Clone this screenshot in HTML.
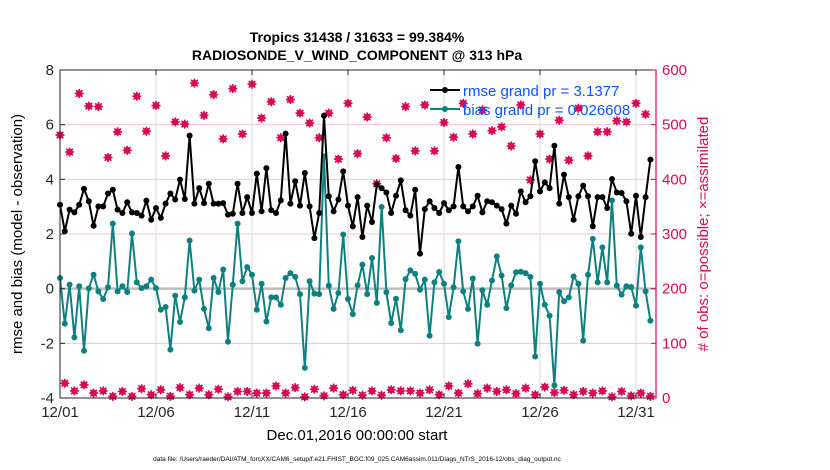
<!DOCTYPE html>
<html><head><meta charset="utf-8"><style>
body{margin:0;background:#fff;}
svg{display:block;font-family:"Liberation Sans",Arial,sans-serif;}
</style></head><body>
<svg id="chart" width="830" height="470" viewBox="0 0 830 470" xmlns="http://www.w3.org/2000/svg">
<g id="grid"></g>
<g id="marks"></g>
<g id="axes"></g>
<text x="357" y="42" text-anchor="middle" font-size="14" font-weight="bold">Tropics 31438 / 31633 = 99.384%</text>
<text x="357" y="60" text-anchor="middle" font-size="14" font-weight="bold">RADIOSONDE_V_WIND_COMPONENT @ 313 hPa</text>
<text x="357" y="440" text-anchor="middle" font-size="15">Dec.01,2016 00:00:00 start</text>
<text transform="translate(22,234) rotate(-90)" text-anchor="middle" font-size="15">rmse and bias (model - observation)</text>
<text transform="translate(708,234) rotate(-90)" text-anchor="middle" font-size="15" fill="#d90a55"># of obs: o=possible; ×=assimilated</text>
<text x="357" y="461" text-anchor="middle" font-size="6.5">data file: /Users/raeder/DAI/ATM_forcXX/CAM6_setup/f.e21.FHIST_BGC.f09_025.CAM6assim.011/Diags_NTrS_2016-12/obs_diag_output.nc</text>
<g>
<line x1="430" y1="90" x2="460" y2="90" stroke="#000" stroke-width="2"/><circle cx="445" cy="90" r="3" fill="#000"/>
<text x="463" y="96" font-size="15" fill="#0a55ff">rmse grand pr = 3.1377</text>
<line x1="430" y1="109" x2="460" y2="109" stroke="#0f8080" stroke-width="2"/><circle cx="445" cy="109" r="3" fill="#0f8080"/>
<text x="463" y="115" font-size="15" fill="#0a55ff">bias grand pr = 0.026608</text>
</g>
</svg>
<script>
const tickLabelsX=["12/01","12/06","12/11","12/16","12/21","12/26","12/31"];
const tickDaysX=[0,5,10,15,20,25,30];
const leftTicks=[-4,-2,0,2,4,6,8];
const rightTicks=[0,100,200,300,400,500,600];
const rmse=[3.07,2.10,2.89,2.79,3.07,3.65,3.20,2.30,3.01,3.01,3.48,3.62,2.89,2.77,3.16,2.79,2.77,2.67,3.22,2.52,2.95,2.59,3.11,3.48,3.26,3.99,3.28,5.60,3.11,3.68,3.13,3.84,3.11,3.11,3.13,2.71,2.74,3.84,2.77,3.35,
2.77,4.21,2.83,4.41,2.87,2.77,3.23,5.67,3.11,3.93,3.04,4.23,3.01,1.85,2.77,6.33,3.38,2.83,3.26,4.29,3.04,2.28,3.35,1.89,3.04,2.44,3.80,3.68,3.52,2.77,3.40,3.96,2.87,2.67,3.62,1.28,2.91,3.20,2.95,2.77,3.13,2.87,
3.01,4.45,3.01,2.83,3.01,3.40,2.79,3.20,3.16,3.04,2.91,2.38,3.04,2.74,3.56,3.16,3.38,4.66,3.56,3.89,3.68,5.23,3.11,4.17,3.35,2.52,3.38,3.77,3.38,2.28,3.35,3.35,2.95,4.01,3.52,3.50,3.20,2.01,3.40,1.89,3.35,4.72];
const bias=[0.39,-1.28,0.15,-1.78,0.09,-2.27,0.01,0.51,-0.10,-0.38,0.05,2.38,-0.10,0.09,-0.12,2.02,0.23,0.02,0.09,0.33,0.02,-0.77,-0.67,-2.23,-0.26,-1.22,-0.32,1.76,-0.07,0.33,-0.74,-1.45,0.39,-0.12,0.70,-1.94,0.15,2.38,0.27,0.79,
0.51,-0.77,0.18,-1.20,-0.32,-0.32,-0.59,0.39,0.57,0.43,-0.20,-2.90,0.27,-0.18,-0.20,4.84,0.11,-0.74,-0.16,1.98,-0.38,-0.93,0.12,0.88,-0.20,1.12,-0.52,2.99,-0.13,-1.26,-0.37,-1.52,0.35,0.67,0.54,-0.04,0.33,-1.72,0.23,0.61,0.18,-1.04,
0.05,1.73,-0.10,-0.74,0.37,-2.01,-0.06,-0.59,0.30,1.18,0.48,-0.71,0.12,0.60,0.62,0.57,0.43,-2.48,0.18,-0.59,-0.99,-3.54,-0.12,-0.46,-0.32,0.45,0.18,-1.90,0.51,1.82,0.23,1.51,0.23,3.23,0.11,-0.22,0.09,0.06,-0.62,1.51,-0.10,-1.17];
const obsHigh=[481,450,557,534,533,440,487,453,552,488,535,443,505,501,576,517,555,474,566,483,574,512,542,476,546,521,503,476,521,437,539,447,514,392,476,438,533,452,536,452,504,477,539,483,527,489,496,461,536,399,483,437,508,435,530,443,487,487,507,505,539,519];
const obsLow=[27,13,24,9,13,3,12,3,17,6,15,3,19,6,18,6,16,2,12,12,9,9,22,9,19,2,16,4,18,6,14,5,13,5,15,13,13,9,15,6,22,9,26,8,18,12,15,8,18,6,20,10,14,6,12,9,13,2,12,4,9,3];

const NS="http://www.w3.org/2000/svg";
const X0=60,X1=656,Y0=70,Y1=398;
const xs=d=>X0+d*19.2;
const yl=v=>Y1-(v+4)*(Y1-Y0)/12;
const yr=v=>Y1-v*(Y1-Y0)/600;
function mk(tag,attrs,parent){const e=document.createElementNS(NS,tag);for(const k in attrs)e.setAttribute(k,attrs[k]);parent.appendChild(e);return e;}
const grid=document.getElementById('grid'),marks=document.getElementById('marks'),axes=document.getElementById('axes');
rightTicks.forEach(t=>{if(t>0&&t<600){const l=mk('line',{x1:X0,x2:X1,y1:yr(t),y2:yr(t),stroke:'#f2c6d6','stroke-width':1},grid);

}});
tickDaysX.forEach(d=>{if(d>0){const l=mk('line',{x1:xs(d),x2:xs(d),y1:Y0,y2:Y1,stroke:'#dadada','stroke-width':1},grid);

}});
const zl=mk('line',{x1:X0,x2:X1,y1:yl(0),y2:yl(0),stroke:'#bdbdbd','stroke-width':2.5},grid);


function obsMark(x,y){const g=mk('g',{},marks);


mk('circle',{cx:x,cy:y,r:3.3,fill:'#d90a55'},g);
mk('path',{d:`M${x-4.5} ${y}H${x+4.5}M${x} ${y-4.5}V${y+4.5}M${x-3.3} ${y-3.3}L${x+3.3} ${y+3.3}M${x-3.3} ${y+3.3}L${x+3.3} ${y-3.3}`,stroke:'#d90a55','stroke-width':1.6},g);}
obsHigh.forEach((v,k)=>obsMark(xs(k*0.5),yr(v)));
obsLow.forEach((v,k)=>obsMark(xs(k*0.5+0.25),yr(v)));
function series(arr,color,name){
const p=mk('polyline',{points:arr.map((v,i)=>xs(i*0.25)+','+yl(v)).join(' '),fill:'none',stroke:color,'stroke-width':2,'stroke-linejoin':'round'},marks);


arr.forEach((v,i)=>{const c=mk('circle',{cx:xs(i*0.25),cy:yl(v),r:3,fill:color},marks);

});}
series(bias,'#0f8080','bias');
series(rmse,'#000','rmse');
mk('rect',{x:X0,y:Y0,width:X1-X0,height:Y1-Y0,fill:'none',stroke:'#262626','stroke-width':1},axes);
mk('line',{x1:X1,x2:X1,y1:Y0,y2:Y1,stroke:'#d90a55','stroke-width':1.2},axes);
leftTicks.forEach(t=>{mk('line',{x1:X0,x2:X0+5,y1:yl(t),y2:yl(t),stroke:'#262626'},axes);
const tx=mk('text',{x:X0-6,y:yl(t)+5,'text-anchor':'end','font-size':15,fill:'#262626'},axes);tx.textContent=t;

});
rightTicks.forEach(t=>{mk('line',{x1:X1,x2:X1-5,y1:yr(t),y2:yr(t),stroke:'#d90a55'},axes);
const tx=mk('text',{x:X1+6,y:yr(t)+5,'font-size':15,fill:'#d90a55'},axes);tx.textContent=t;

});
tickDaysX.forEach((d,i)=>{mk('line',{x1:xs(d),x2:xs(d),y1:Y1,y2:Y1-5,stroke:'#262626'},axes);
mk('line',{x1:xs(d),x2:xs(d),y1:Y0,y2:Y0+5,stroke:'#262626'},axes);
const tx=mk('text',{x:xs(d),y:Y1+19,'text-anchor':'middle','font-size':15,fill:'#262626'},axes);tx.textContent=tickLabelsX[i];

});
</script>
</body></html>
